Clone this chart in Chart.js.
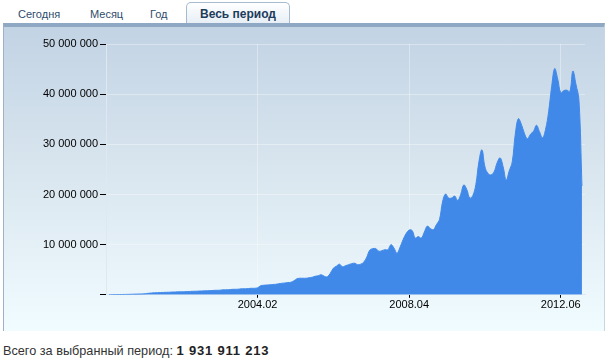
<!DOCTYPE html>
<html>
<head>
<meta charset="utf-8">
<script src="https://cdn.jsdelivr.net/npm/chart.js@4"></script>
<style>
  body { margin: 0; width: 607px; height: 364px; overflow: hidden; position: relative; background: #fff;
         font-family: "Liberation Sans", Arial, sans-serif; }
  .tab { position: absolute; top: 8px; font-size: 11px; color: #2e4c6c; }
  .tab.active { top: 2px; left: 186px; width: 102px; height: 23px; line-height: 23px; text-align: center;
                font-size: 12px; font-weight: bold; color: #1d3b5d; border: 1px solid #a6bbd0; border-bottom: none;
                border-radius: 5px 5px 0 0; background: linear-gradient(#ffffff, #e3ecf4); }
  .panel { position: absolute; left: 3px; top: 23px; width: 600px; height: 304px;
           border-top: 4px solid #8fa8c3; border-left: 1px solid #9db2c7; border-right: 1px solid #c8d6e2;
           background: linear-gradient(#c2d3e4, #dde9f1 55%, #f0fcff); }
  #chart { position: absolute; left: 1px; top: 0; }
  .total { position: absolute; left: 3px; top: 343px; font-size: 12.7px; color: #333; }
  .total b { font-size: 13px; letter-spacing: 0.8px; color: #222; }
</style>
</head>
<body>
<div class="tab" style="left:18px">Сегодня</div>
<div class="tab" style="left:90px">Месяц</div>
<div class="tab" style="left:150px">Год</div>
<div class="tab active">Весь период</div>
<div class="panel"><canvas id="chart" width="599" height="304"></canvas></div>
<div class="total">Всего за выбранный период: <b>1 931 911 213</b></div>

<script>
// monthly visits, millions, 2000.01 .. 2013.01
const firstYear = 2000;
const visits2000 = [0.02, 0.03, 0.04, 0.05, 0.06, 0.07, 0.08, 0.1, 0.12, 0.14, 0.16, 0.18];
const visits2001 = [0.22, 0.3, 0.35, 0.4, 0.42, 0.45, 0.48, 0.5, 0.52, 0.55, 0.57, 0.6];
const visits2002 = [0.6, 0.62, 0.65, 0.68, 0.7, 0.72, 0.75, 0.78, 0.8, 0.82, 0.85, 0.9];
const visits2003 = [0.9, 0.95, 1.0, 1.0, 1.05, 1.1, 1.1, 1.15, 1.2, 1.2, 1.25, 1.3];
const visits2004 = [1.3, 1.4, 1.8, 1.9, 1.95, 2.0, 2.05, 2.1, 2.2, 2.3, 2.35, 2.45];
const visits2005 = [2.5, 2.8, 3.2, 3.3, 3.3, 3.3, 3.4, 3.5, 3.7, 3.8, 4.0, 3.7];
const visits2006 = [3.6, 4.3, 5.3, 5.7, 6.1, 5.6, 5.8, 6.0, 6.2, 6.3, 6.0, 6.1];
const visits2007 = [6.5, 7.5, 8.9, 9.2, 9.2, 8.7, 8.8, 9.0, 9.0, 10.0, 9.3, 8.3];
const visits2008 = [9.5, 11.0, 12.2, 12.9, 12.8, 11.3, 11.6, 11.3, 12.5, 13.7, 13.2, 13.0];
const visits2009 = [14.0, 15.0, 18.5, 20.1, 19.3, 19.3, 19.7, 18.8, 20.0, 21.9, 21.0, 19.3];
const visits2010 = [19.8, 22.0, 26.5, 28.9, 25.5, 24.2, 23.9, 24.5, 26.3, 27.3, 25.5, 22.9];
const visits2011 = [24.7, 26.5, 32.0, 35.1, 34.0, 32.2, 31.1, 32.0, 32.6, 33.8, 32.5, 31.3];
const visits2012 = [33.0, 36.5, 41.5, 45.1, 43.0, 40.3, 40.7, 40.8, 40.5, 44.6, 42.0, 38.8];
const visits2013 = [21.7];

const tickLabels = ['2004.02', '2008.04', '2012.06'];

const visitsMln = [].concat(visits2000, visits2001, visits2002, visits2003, visits2004, visits2005,
  visits2006, visits2007, visits2008, visits2009, visits2010, visits2011, visits2012, visits2013);

// month labels, with one empty month on each side of the data
let months = [];
let values = [];
months.push('1999.12'); values.push(null);
visitsMln.forEach((v, i) => {
  const y = firstYear + Math.floor(i / 12);
  const m = i % 12 + 1;
  months.push(y + '.' + String(m).padStart(2, '0'));
  values.push(v * 1000000);
});
months.push('2013.02'); values.push(null);

function spaced(n) {
  return String(n).replace(/\B(?=(\d{3})+(?!\d))/g, ' ');
}

const font = { family: 'Liberation Sans', size: 11 };

new Chart(document.getElementById('chart'), {
  type: 'line',
  data: {
    labels: months,
    datasets: [{
      data: values,
      fill: 'origin',
      backgroundColor: '#4189e9',
      borderColor: '#4189e9',
      borderWidth: 1,
      pointRadius: 0,
      tension: 0.4
    }]
  },
  options: {
    responsive: false,
    animation: false,
    layout: { padding: { top: 17, right: 19, bottom: 18, left: 0 } },
    plugins: { legend: { display: false }, tooltip: { enabled: false } },
    scales: {
      x: {
        offset: false,
        grid: { color: 'rgba(255,255,255,0.35)', tickColor: '#000', tickLength: 3 },
        border: { color: '#dfe8ef' },
        ticks: {
          autoSkip: false, maxRotation: 0, color: '#000', font: font, padding: 1,
          callback: function (v) { return this.getLabelForValue(v); }
        },
        afterBuildTicks: (scale) => {
          scale.ticks = scale.ticks.filter(t => tickLabels.includes(months[t.value]));
        }
      },
      y: {
        min: 0,
        max: 50000000,
        grid: { color: 'rgba(255,255,255,0.35)', tickColor: '#000', tickLength: 6 },
        border: { color: '#dfe8ef' },
        ticks: {
          stepSize: 10000000, color: '#000', font: font, padding: 2,
          callback: (v) => v === 0 ? '' : spaced(v)
        },
        afterFit: (scale) => { scale.width = 101; }
      }
    }
  }
});
</script>
</body>
</html>
